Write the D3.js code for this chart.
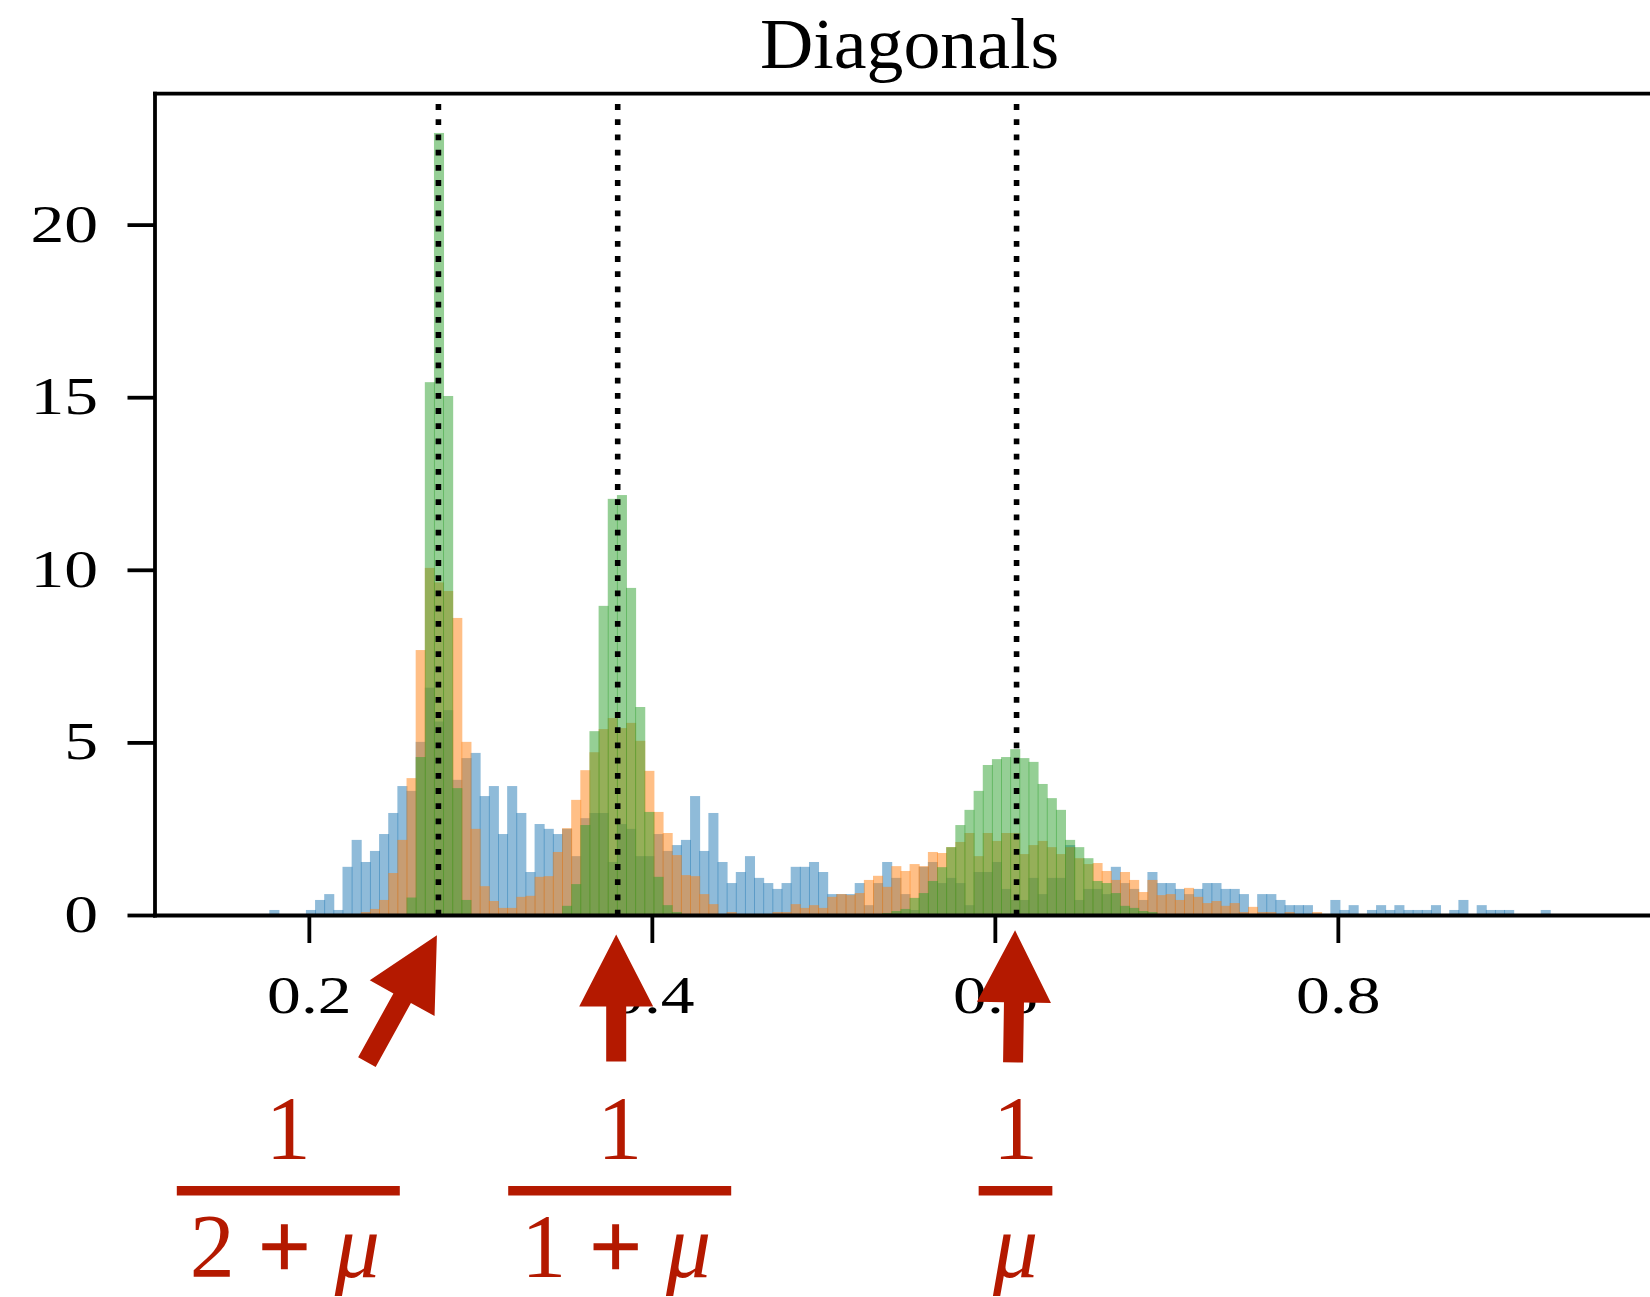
<!DOCTYPE html>
<html>
<head>
<meta charset="utf-8">
<script src="https://cdn.jsdelivr.net/npm/d3@7"></script>
<style>
  html, body { margin: 0; padding: 0; background: #ffffff; }
  svg { display: block; }
</style>
</head>
<body>
<svg id="chart" width="1650" height="1297"></svg>
<script>
// Histogram bins: 150 equal bins on [0.15, 0.95]
const binStart = 0.15;
const binEnd = 0.95;
const binCount = 150;

// Density per bin, three runs
const blueDensity = [
  0, 0, 0, 0, 0, 0.16, 0, 0, 0, 0.16,
  0.45, 0.62, 0.16, 1.41, 2.19, 1.55, 1.87, 2.36, 2.97, 3.75,
  3.61, 5.03, 6.6, 5.62, 5.95, 3.93, 4.56, 4.71, 3.46, 3.75,
  2.36, 3.75, 2.97, 1.26, 2.65, 2.51, 2.36, 2.51, 1.72, 2.82,
  2.97, 2.97, 1.55, 2.65, 2.51, 1.72, 1.72, 2.36, 1.87, 2.04,
  2.19, 3.46, 1.87, 2.97, 1.55, 0.94, 1.26, 1.72, 1.09, 0.94,
  0.77, 0.94, 1.41, 1.41, 1.55, 1.26, 0.62, 0.62, 0.62, 0.94,
  0.30, 0.94, 1.55, 1.09, 0.62, 0.16, 1.41, 1.55, 0.94, 1.09,
  0.94, 0.30, 1.26, 1.26, 1.55, 0.77, 0.45, 0.45, 1.09, 0.62,
  1.09, 1.09, 2.04, 0.45, 0.77, 0.77, 0.62, 1.41, 0.94, 0.77,
  0.45, 1.26, 0.94, 0.94, 0.77, 0.62, 0.77, 0.94, 0.94, 0.77,
  0.77, 0.62, 0, 0.62, 0.62, 0.45, 0.30, 0.30, 0.30, 0,
  0, 0.45, 0.16, 0.30, 0, 0.16, 0.30, 0.16, 0.30, 0.16,
  0.16, 0.16, 0.30, 0, 0.16, 0.45, 0, 0.30, 0.16, 0.16,
  0.16, 0, 0, 0, 0.16, 0, 0, 0, 0, 0
];

const orangeDensity = [
  0, 0, 0, 0, 0, 0, 0, 0, 0, 0,
  0, 0, 0, 0, 0, 0.1, 0.19, 0.45, 1.23, 2.19,
  3.98, 7.69, 10.07, 9.65, 9.4, 8.62, 5.03, 2.51, 0.85, 0.42,
  0.22, 0.22, 0.54, 0.57, 1.12, 1.14, 1.84, 2.53, 3.35, 4.21,
  4.73, 5.4, 5.72, 5.43, 5.58, 5.06, 4.19, 3.0, 2.39, 1.75,
  1.17, 1.14, 0.62, 0.33, 0, 0.1, 0, 0, 0, 0,
  0.1, 0.1, 0.33, 0.22, 0.30, 0.22, 0.54, 0.62, 0.59, 0.65,
  1.03, 1.15, 0.83, 1.43, 1.29, 1.49, 1.43, 1.84, 1.81, 1.98,
  2.13, 2.39, 1.72, 2.39, 2.16, 2.39, 2.39, 1.78, 2.04, 2.16,
  1.98, 1.78, 1.98, 1.66, 1.49, 1.52, 1.29, 1.03, 1.26, 1.03,
  0.68, 1.03, 0.59, 0.62, 0.45, 0.80, 0.54, 0.36, 0.42, 0.28,
  0.36, 0.1, 0.25, 0.1, 0.1, 0, 0.1, 0, 0, 0.1,
  0, 0, 0, 0, 0, 0, 0, 0, 0, 0,
  0, 0, 0, 0, 0, 0, 0, 0, 0, 0,
  0, 0, 0, 0, 0, 0, 0, 0, 0, 0
];

const greenDensity = [
  0, 0, 0, 0, 0, 0, 0, 0, 0, 0,
  0, 0, 0, 0, 0, 0, 0, 0, 0, 0,
  0.52, 4.59, 15.45, 22.67, 15.05, 3.69, 0.45, 0, 0, 0,
  0, 0, 0, 0, 0, 0, 0, 0.28, 0.91, 2.62,
  5.34, 8.97, 12.07, 12.18, 9.49, 6.04, 3.0, 1.12, 0.30, 0.1,
  0, 0, 0, 0, 0, 0, 0, 0, 0, 0,
  0, 0, 0, 0, 0, 0, 0, 0, 0, 0,
  0, 0, 0.07, 0.13, 0.19, 0.51, 0.65, 1.0, 1.40, 1.98,
  2.62, 3.06, 3.61, 4.36, 4.53, 4.59, 4.82, 4.56, 4.45, 3.81,
  3.40, 3.06, 2.19, 1.98, 1.66, 1.0, 0.94, 0.65, 0.28, 0.22,
  0.13, 0.10, 0, 0, 0, 0, 0, 0, 0, 0,
  0, 0, 0, 0, 0, 0, 0, 0, 0, 0,
  0, 0, 0, 0, 0, 0, 0, 0, 0, 0,
  0, 0, 0, 0, 0, 0, 0, 0, 0, 0,
  0, 0, 0, 0, 0, 0, 0, 0, 0, 0
];

const seriesColors = ["#1f77b4", "#ff7f0e", "#2ca02c"];
const xTicks = [0.2, 0.4, 0.6, 0.8];
const yTicks = [0, 5, 10, 15, 20];
const titleText = "Diagonals";

// Reference positions 1/(2+mu), 1/(1+mu), 1/mu
const mu = 1.633;
const markerValues = [1 / (2 + mu), 1 / (1 + mu), 1 / mu];
const numerators = ["1", "1", "1"];
const denominators = [["2", "+", "μ"], ["1", "+", "μ"], ["μ"]];

// ---------- layout ----------
const svg = d3.select("#chart");
const serif = "'Liberation Serif', 'DejaVu Serif', serif";
const red = "#b41900";
const lineW = 3.8;

const x = d3.scaleLinear().domain([0.11, 0.99]).range([155, 1664.2]);
const y = d3.scaleLinear().domain([0, 23.807]).range([915.5, 93.7]);
const plotLeft = x.range()[0], plotRight = x.range()[1];
const plotTop = y.range()[1], plotBottom = y.range()[0];
const binWidth = (binEnd - binStart) / binCount;

const plot = svg.append("g");
svg.append("clipPath").attr("id", "plot-clip")
  .append("rect")
  .attr("x", plotLeft).attr("y", plotTop)
  .attr("width", plotRight - plotLeft).attr("height", plotBottom - plotTop);
plot.attr("clip-path", "url(#plot-clip)");

// ---------- histogram bars ----------
[blueDensity, orangeDensity, greenDensity].forEach((values, s) => {
  const bins = values.map((v, i) => ({
    x0: binStart + i * binWidth,
    x1: binStart + (i + 1) * binWidth,
    v
  })).filter(d => d.v > 0);
  plot.append("g")
    .selectAll("rect")
    .data(bins)
    .join("rect")
    .attr("x", d => x(d.x0))
    .attr("width", d => x(d.x1) - x(d.x0) + 0.9)
    .attr("y", d => y(d.v))
    .attr("height", d => y(0) - y(d.v))
    .attr("fill", seriesColors[s])
    .attr("fill-opacity", 0.5);
});

// ---------- dotted reference lines ----------
plot.append("g")
  .selectAll("line")
  .data(markerValues)
  .join("line")
  .attr("x1", d => x(d)).attr("x2", d => x(d))
  .attr("y1", plotBottom).attr("y2", plotTop)
  .attr("stroke", "#000")
  .attr("stroke-width", 5.6)
  .attr("stroke-dasharray", "5.8 9.4");

// ---------- spines ----------
const spines = svg.append("g").attr("stroke", "#000").attr("stroke-width", lineW)
  .attr("stroke-linecap", "square");
spines.append("line").attr("x1", plotLeft).attr("x2", plotLeft).attr("y1", plotTop).attr("y2", plotBottom);
spines.append("line").attr("x1", plotLeft).attr("x2", plotRight).attr("y1", plotTop).attr("y2", plotTop);
spines.append("line").attr("x1", plotLeft).attr("x2", plotRight).attr("y1", plotBottom).attr("y2", plotBottom);

// ---------- ticks ----------
const tickLen = 27.5;
const tickFont = 52;
const tickStretch = 1.3;

const xAxis = svg.append("g");
xAxis.selectAll("line").data(xTicks).join("line")
  .attr("x1", d => x(d)).attr("x2", d => x(d))
  .attr("y1", plotBottom).attr("y2", plotBottom + tickLen)
  .attr("stroke", "#000").attr("stroke-width", lineW);
xAxis.selectAll("text").data(xTicks).join("text")
  .attr("transform", d => `translate(${x(d)},${plotBottom + 97.5}) scale(${tickStretch},1)`)
  .attr("text-anchor", "middle")
  .attr("font-family", serif).attr("font-size", tickFont)
  .attr("fill", "#000")
  .text(d => d3.format(".1f")(d));

const yAxis = svg.append("g");
yAxis.selectAll("line").data(yTicks).join("line")
  .attr("x1", plotLeft).attr("x2", plotLeft - tickLen)
  .attr("y1", d => y(d)).attr("y2", d => y(d))
  .attr("stroke", "#000").attr("stroke-width", lineW);
yAxis.selectAll("text").data(yTicks).join("text")
  .attr("transform", d => `translate(${plotLeft - 57},${y(d) + 16.5}) scale(${tickStretch},1)`)
  .attr("text-anchor", "end")
  .attr("font-family", serif).attr("font-size", tickFont)
  .attr("fill", "#000")
  .text(d => d);

// ---------- title ----------
svg.append("text")
  .attr("transform", `translate(${(plotLeft + plotRight) / 2},68.4) scale(1.04,1)`)
  .attr("text-anchor", "middle")
  .attr("font-family", serif).attr("font-size", 71)
  .attr("fill", "#000")
  .text(titleText);

// ---------- arrows ----------
function arrowPath(tx, ty, sx, sy, headLen, headHalf, shaftHalf) {
  const dx = tx - sx, dy = ty - sy;
  const len = Math.hypot(dx, dy);
  const ux = dx / len, uy = dy / len;      // along the arrow
  const px = -uy, py = ux;                 // perpendicular
  const bx = tx - ux * headLen, by = ty - uy * headLen;
  const pts = [
    [sx + px * shaftHalf, sy + py * shaftHalf],
    [bx + px * shaftHalf, by + py * shaftHalf],
    [bx + px * headHalf, by + py * headHalf],
    [tx, ty],
    [bx - px * headHalf, by - py * headHalf],
    [bx - px * shaftHalf, by - py * shaftHalf],
    [sx - px * shaftHalf, sy - py * shaftHalf]
  ];
  return "M" + pts.map(p => p.join(",")).join("L") + "Z";
}

// tip sits just below the axis, tail offset in pixels
const arrowTipY = [-0.57, -0.55, -0.43];
const arrowTail = [[-70, 127], [0, 127], [-2, 132]];
const fracCenters = [288.3, 619.7, 1015.5];
const fracBarWidth = [223, 223, 73.7];

const ann = svg.append("g").attr("fill", red);
markerValues.forEach((v, i) => {
  const tx = x(v) - 1.5, ty = y(arrowTipY[i]);
  ann.append("path")
    .attr("d", arrowPath(tx, ty, tx + arrowTail[i][0], ty + arrowTail[i][1], 72, 37, 10));
});

// ---------- fraction labels ----------
const fracFont = 90;
markerValues.forEach((v, i) => {
  const cx = fracCenters[i];
  const g = ann.append("g");
  g.append("text")
    .attr("x", cx).attr("y", 1158.5)
    .attr("text-anchor", "middle")
    .attr("font-family", serif).attr("font-size", fracFont)
    .text(numerators[i]);
  g.append("rect")
    .attr("x", cx - fracBarWidth[i] / 2).attr("y", 1186)
    .attr("width", fracBarWidth[i]).attr("height", 9.5);
  const parts = denominators[i];
  const offsets = parts.length === 3 ? [-76, -4, 69] : [0];
  parts.forEach((p, j) => {
    const t = g.append("text")
      .attr("x", cx + offsets[j]).attr("y", 1277)
      .attr("text-anchor", "middle")
      .attr("font-family", serif)
      .attr("font-size", fracFont)
      .attr("font-style", p === "μ" ? "italic" : "normal")
      .text(p);
    // heavier plus sign, as in TeX math
    if (p === "+") t.attr("stroke", red).attr("stroke-width", 2.4);
  });
});
</script>
</body>
</html>
